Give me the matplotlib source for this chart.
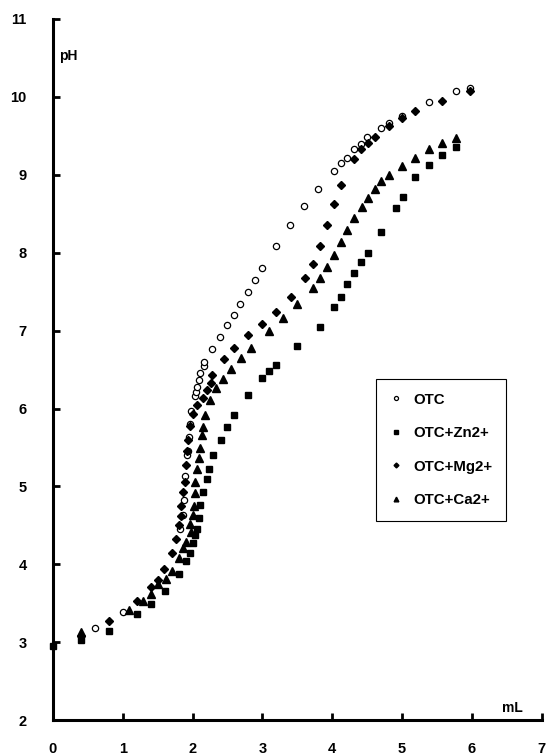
import matplotlib.pyplot as plt

# titration data (mL, pH)
otc_x = [0.6, 1.0, 1.82, 1.86, 1.87, 1.89, 1.92, 1.93, 1.95, 1.96, 1.98, 2.03, 2.05, 2.06,
         2.09, 2.11, 2.16, 2.17, 2.28, 2.39, 2.49, 2.59, 2.68, 2.79, 2.89, 2.99, 3.19, 3.39,
         3.60, 3.80, 4.02, 4.12, 4.21, 4.31, 4.41, 4.50, 4.70, 4.81, 5.00, 5.38, 5.78, 5.97]
otc_y = [3.19, 3.39, 4.46, 4.64, 4.82, 5.13, 5.40, 5.46, 5.64, 5.80, 5.97, 6.16, 6.21, 6.28,
         6.36, 6.45, 6.55, 6.60, 6.76, 6.92, 7.07, 7.20, 7.34, 7.49, 7.65, 7.80, 8.09, 8.35,
         8.60, 8.82, 9.05, 9.15, 9.22, 9.33, 9.40, 9.48, 9.60, 9.67, 9.76, 9.93, 10.07, 10.11]

zn_x = [0.0, 0.4, 0.8, 1.2, 1.4, 1.6, 1.81, 1.90, 1.96, 2.0, 2.03, 2.06, 2.09, 2.10, 2.15,
        2.20, 2.23, 2.29, 2.40, 2.50, 2.60, 2.79, 3.0, 3.09, 3.20, 3.50, 3.82, 4.02, 4.13,
        4.21, 4.31, 4.41, 4.51, 4.70, 4.91, 5.01, 5.19, 5.38, 5.58, 5.78]
zn_y = [2.95, 3.03, 3.15, 3.37, 3.49, 3.66, 3.88, 4.04, 4.15, 4.27, 4.38, 4.45, 4.60, 4.76, 4.93,
        5.09, 5.23, 5.41, 5.59, 5.76, 5.92, 6.17, 6.39, 6.48, 6.56, 6.80, 7.05, 7.30, 7.43,
        7.60, 7.74, 7.88, 8.00, 8.26, 8.57, 8.71, 8.97, 9.12, 9.25, 9.36]

mg_x = [0.4, 0.8, 1.2, 1.40, 1.50, 1.59, 1.71, 1.76, 1.80, 1.83, 1.84, 1.86, 1.89, 1.90, 1.92,
        1.94, 1.96, 2.0, 2.06, 2.15, 2.20, 2.26, 2.28, 2.45, 2.59, 2.80, 3.0, 3.20, 3.41, 3.61,
        3.72, 3.82, 3.92, 4.02, 4.12, 4.31, 4.41, 4.51, 4.61, 4.81, 5.0, 5.19, 5.58, 5.97]
mg_y = [3.08, 3.27, 3.53, 3.71, 3.80, 3.94, 4.14, 4.32, 4.50, 4.62, 4.75, 4.93, 5.06, 5.27, 5.45,
        5.59, 5.78, 5.93, 6.04, 6.13, 6.24, 6.33, 6.43, 6.63, 6.78, 6.94, 7.08, 7.24, 7.43, 7.67,
        7.85, 8.08, 8.35, 8.63, 8.87, 9.20, 9.33, 9.41, 9.49, 9.63, 9.73, 9.82, 9.95, 10.08]

ca_x = [0.4, 1.09, 1.29, 1.41, 1.51, 1.62, 1.70, 1.81, 1.86, 1.91, 1.98, 1.97, 2.0, 2.02, 2.03,
        2.03, 2.06, 2.09, 2.10, 2.13, 2.15, 2.18, 2.25, 2.34, 2.44, 2.55, 2.69, 2.84, 3.09, 3.30,
        3.50, 3.72, 3.82, 3.92, 4.03, 4.12, 4.21, 4.31, 4.42, 4.51, 4.61, 4.70, 4.81, 5.0, 5.19,
        5.38, 5.58, 5.78]
ca_y = [3.13, 3.42, 3.53, 3.62, 3.75, 3.81, 3.92, 4.08, 4.21, 4.29, 4.41, 4.52, 4.63, 4.75, 4.92,
        5.06, 5.22, 5.36, 5.49, 5.66, 5.76, 5.92, 6.11, 6.26, 6.38, 6.51, 6.65, 6.78, 7.00, 7.16,
        7.34, 7.55, 7.68, 7.82, 7.97, 8.14, 8.29, 8.44, 8.58, 8.70, 8.82, 8.92, 9.00, 9.11, 9.22,
        9.33, 9.41, 9.47]

plt.rcParams['font.family'] = ['Liberation Sans', 'DejaVu Sans']
plt.rcParams['font.weight'] = 'bold'

fig = plt.figure(figsize=(5.49, 7.55), dpi=100)
ax = fig.add_axes([0.0965, 0.046, 0.89, 0.929])

ax.plot(otc_x, otc_y, 'o', ms=4.5, mfc='white', mec='black', mew=0.9, label='OTC')
ax.plot(zn_x, zn_y, 's', ms=4.8, color='black', label='OTC+Zn2+', clip_on=False)
ax.plot(mg_x, mg_y, 'D', ms=3.8, color='black', label='OTC+Mg2+')
ax.plot(ca_x, ca_y, '^', ms=5.2, color='black', label='OTC+Ca2+')

ax.set_xlim(0, 7)
ax.set_ylim(2, 11)
ax.set_xticks(range(0, 8))
ax.set_yticks(range(2, 12))
for s in ['top', 'right']:
    ax.spines[s].set_visible(False)
for s in ['left', 'bottom']:
    ax.spines[s].set_linewidth(2.2)
ax.tick_params(direction='in', length=5, width=2)
ax.tick_params(axis='y', pad=19, labelsize=10.5)
ax.tick_params(axis='x', pad=16, labelsize=10.5)
for lab in ax.get_xticklabels() + ax.get_yticklabels():
    lab.set_fontweight('bold')

ax.text(0.08, 10.47, 'pH', fontsize=10, fontweight='bold')
ax.text(6.44, 2.10, 'mL', fontsize=10, fontweight='bold')

leg = ax.legend(loc='upper left', bbox_to_anchor=(0.646, 0.497), fancybox=False,
                edgecolor='black', framealpha=1, markerscale=0.65, handlelength=0.8,
                handletextpad=0.8, labelspacing=1.3, borderpad=0.9,
                prop={'weight': 'bold', 'size': 10.8})
leg.get_frame().set_linewidth(0.8)

plt.savefig('out.png', dpi=100)
